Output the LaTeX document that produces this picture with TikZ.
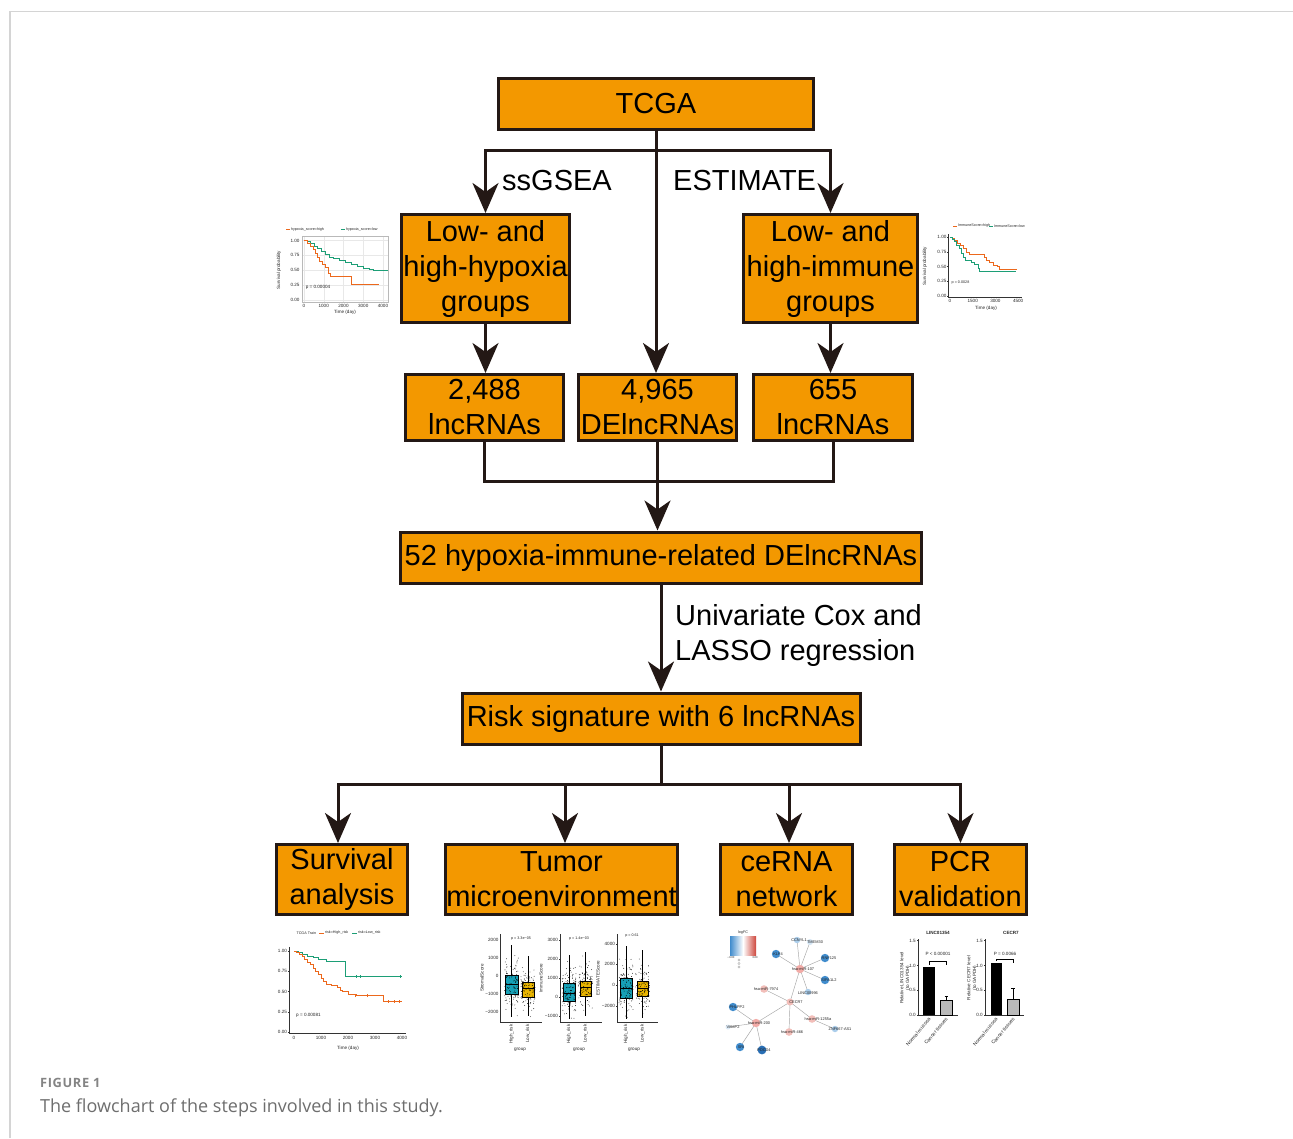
\documentclass[tikz,border=0pt]{standalone}
\usepackage{fontspec}
\setmainfont{Liberation Sans}
\newfontfamily\capfont{Open Sans}
\newfontfamily\capfontb[LetterSpace=5]{Open Sans}
\usetikzlibrary{arrows.meta,calc}
\definecolor{boxorange}{RGB}{243,152,0}
\definecolor{linedark}{RGB}{35,24,21}
\definecolor{framegray}{RGB}{212,212,212}
\definecolor{kmorange}{RGB}{236,104,28}
\definecolor{kmgreen}{RGB}{28,158,118}
\definecolor{bxcyan}{RGB}{22,160,182}
\definecolor{bxyellow}{RGB}{232,180,0}
\definecolor{nwblue}{RGB}{64,140,205}
\definecolor{nwdblue}{RGB}{40,110,180}
\definecolor{nwlblue}{RGB}{170,205,235}
\definecolor{nwpink}{RGB}{242,190,185}
\definecolor{nwred}{RGB}{205,70,60}
\definecolor{capgray}{RGB}{110,110,110}
\newcommand\bxp[8]{%
  \draw[black, line width=0.4pt] ({(#1+#2)/2},#6) -- ({(#1+#2)/2},#3);
  \draw[black, line width=0.4pt] ({(#1+#2)/2},#4) -- ({(#1+#2)/2},#7);
  \filldraw[fill=#8, draw=black, line width=0.4pt] (#1,#3) rectangle (#2,#4);}
\newcommand\jit[4]{%
  \foreach \k in {1,...,#4}{%
    \pgfmathsetmacro\jx{#1+rand*7}%
    \pgfmathsetmacro\jy{#2+(rand+rand+rand)/3*#3}%
    \fill[black] (\jx,\jy) circle[radius=0.42];}}
\begin{document}
\begin{tikzpicture}[x=1pt,y=-1pt,
  flowbox/.style={draw=linedark, fill=boxorange, line width=3pt, inner sep=0pt,
    align=center, font=\fontsize{29}{35}\selectfont, text=black},
  conn/.style={line width=3pt, draw=linedark},
  arr/.style={conn, -{Stealth[length=30pt,width=26pt,inset=9pt]}},
  lbl/.style={font=\fontsize{29}{35}\selectfont, inner sep=0pt, text=black},
  tl/.style={font=\fontsize{4.6}{5}\selectfont, inner sep=0.4pt, text=black!85},
  ts/.style={font=\fontsize{3.7}{4}\selectfont, inner sep=0.3pt, text=black!85},
  kmo/.style={kmorange, line width=0.7pt},
  kmg/.style={kmgreen, line width=0.7pt},
  ax/.style={black!80, line width=0.5pt},
  nwedge/.style={gray!70, line width=0.45pt},
  nwlab/.style={font=\fontsize{3.9}{4}\selectfont, inner sep=0.2pt, text=black!85}]
\useasboundingbox (0,0) rectangle (1293,1138);
\fill[white] (0,0) rectangle (1293,1138);
\draw[framegray, line width=1.6pt] (10,1138) -- (10,11.5) -- (1293,11.5);
\pgfmathsetseed{17}

% ---------------- flow boxes ----------------
\node[flowbox, minimum width=315, minimum height=51] (tcga) at (656,103.5) {TCGA};
\node[flowbox, minimum width=168, minimum height=108] (hyp) at (485.5,268.5) {Low- and\\high-hypoxia\\groups};
\node[flowbox, minimum width=174, minimum height=108] (imm) at (830.5,268.5) {Low- and\\high-immune\\groups};
\node[flowbox, minimum width=158, minimum height=66] (l1) at (484.5,407.5) {2,488\\lncRNAs};
\node[flowbox, minimum width=158, minimum height=66] (l2) at (657.5,407.5) {4,965\\DElncRNAs};
\node[flowbox, minimum width=159, minimum height=66] (l3) at (833,407.5) {655\\lncRNAs};
\node[flowbox, minimum width=521, minimum height=51] (b52) at (661,557.5) {52 hypoxia-immune-related DElncRNAs};
\node[flowbox, minimum width=398, minimum height=51] (risk) at (661,718.5) {Risk signature with 6 lncRNAs};
\node[flowbox, minimum width=131, minimum height=70] (surv) at (342,879.5) {Survival\\analysis};
\node[flowbox, minimum width=232, minimum height=70] (tme) at (561.5,879.5) {Tumor\\microenvironment};
\node[flowbox, minimum width=132, minimum height=70] (cerna) at (786.5,879.5) {ceRNA\\network};
\node[flowbox, minimum width=132, minimum height=70] (pcr) at (960.5,879.5) {PCR\\validation};

% ---------------- connectors ----------------
\coordinate (split1) at (656,150);
\draw[conn] (tcga.south) -- (split1);
\draw[arr] (split1) -| (hyp.north);
\draw[arr] (split1) -| (imm.north);
\draw[arr] (tcga.south) -- (tcga.south |- l2.north);
\node[lbl, anchor=west] (ssg) at (502,181) {ssGSEA};
\node[lbl, anchor=west] (est) at (673,181) {ESTIMATE};
\draw[arr] (hyp.south) -- (hyp.south |- l1.north);
\draw[arr] (imm.south) -- (imm.south |- l3.north);
\coordinate (join) at (657.5,481);
\draw[conn] (l1.south) |- (join) -| (l3.south);
\draw[arr] (l2.south) -- (l2.south |- b52.north);
\draw[arr] (b52.south) -- (b52.south |- risk.north);
\node[lbl, anchor=west, align=left] (cox) at (675,635) {Univariate Cox and\\LASSO regression};
\coordinate (split2) at (661,784);
\draw[conn] (risk.south) -- (split2);
\draw[arr] (split2) -| ([xshift=-4pt]surv.north);
\draw[arr] (split2) -| ([xshift=3.5pt]tme.north);
\draw[arr] (split2) -| ([xshift=2.5pt]cerna.north);
\draw[arr] (split2) -| (pcr.north);

% ---------------- KM plot: hypoxia ----------------
\begin{scope}[shift={(304,300)}, x=0.01975pt, y=59.5pt]
  \foreach \s in {0,0.25,0.5,0.75,1} \draw[gray!18, line width=0.3pt] (-110,\s) -- (4260,\s);
  \foreach \t in {0,1000,2000,3000,4000} \draw[gray!18, line width=0.3pt] (\t,-0.04) -- (\t,1.07);
  \draw[gray!55, line width=0.4pt] (-110,-0.04) rectangle (4260,1.07);
  \foreach \s/\l in {0/0.00,0.25/0.25,0.5/0.50,0.75/0.75,1/1.00}
    \node[tl, anchor=east] at (-200,\s) {\l};
  \foreach \t in {0,1000,2000,3000,4000}
    \node[tl, anchor=north] at (\t,-0.07) {\t};
  \draw[kmg] (0,1) -| (150,0.98) -| (300,0.95) -| (500,0.9) -| (700,0.86) -| (900,0.82) -| (1100,0.77) -| (1300,0.72) -| (1500,0.70) -| (1800,0.67) -| (2100,0.64) -| (2400,0.6) -| (2700,0.56) -| (3000,0.53) -| (3300,0.52) -| (3500,0.5) -- (4250,0.5);
  \draw[kmo] (0,1) -| (150,0.96) -| (300,0.9) -| (450,0.85) -| (550,0.78) -| (700,0.72) -| (800,0.65) -| (950,0.6) -| (1100,0.55) -| (1250,0.45) -| (1350,0.4) -| (2400,0.27) -- (3800,0.27);
  \node[tl, anchor=west] at (60,0.22) {p = 0.00004};
\end{scope}
\node[tl, rotate=90] at (279,270) {Survival probability};
\node[tl] at (345,312) {Time (day)};
\draw[kmorange, line width=0.8pt] (286,229.5) -- (290,229.5);
\node[ts, anchor=west] at (290.5,229.5) {hypoxia\_score=high};
\draw[kmgreen, line width=0.8pt] (341,229.5) -- (345,229.5);
\node[ts, anchor=west] at (345.5,229.5) {hypoxia\_score=low};

% ---------------- KM plot: immune ----------------
\begin{scope}[shift={(950,296)}, x=0.01513pt, y=59pt]
  \draw[ax] (-130,1.05) -- (-130,-0.02) -- (4750,-0.02);
  \foreach \s/\l in {0/0.00,0.25/0.25,0.5/0.50,0.75/0.75,1/1.00}
    {\node[tl, anchor=east] at (-200,\s) {\l}; \draw[ax] (-130,\s) -- (-190,\s);}
  \foreach \t in {0,1500,3000,4500}
    \node[tl, anchor=north] at (\t,-0.05) {\t};
  \draw[kmo] (0,1) -| (150,0.97) -| (300,0.94) -| (500,0.9) -| (700,0.86) -| (900,0.8) -| (1100,0.74) -| (1300,0.71) -| (2300,0.66) -| (2400,0.6) -| (2600,0.57) -| (2850,0.52) -| (3100,0.5) -| (3250,0.45) -- (4450,0.45);
  \draw[kmg] (0,1) -| (150,0.96) -| (300,0.92) -| (450,0.86) -| (600,0.8) -| (750,0.73) -| (900,0.66) -| (1000,0.6) -| (1400,0.57) -| (1600,0.53) -| (1850,0.47) -| (1950,0.42) -- (4350,0.42);
  \node[ts, anchor=west] at (80,0.22) {p = 0.0028};
\end{scope}
\node[tl, rotate=90] at (925,266) {Survival probability};
\node[tl] at (986,308.5) {Time (day)};
\draw[kmorange, line width=0.8pt] (953,226) -- (957,226);
\node[ts, anchor=west] at (957.5,226) {ImmuneScore=high};
\draw[kmgreen, line width=0.8pt] (989,226) -- (993,226);
\node[ts, anchor=west] at (993.5,226) {ImmuneScore=low};

% ---------------- KM plot: survival analysis ----------------
\begin{scope}[shift={(294,1032)}, x=0.027pt, y=81pt]
  \draw[ax] (-190,1.05) -- (-190,-0.015) -- (4150,-0.015);
  \foreach \s/\l in {0/0.00,0.25/0.25,0.5/0.50,0.75/0.75,1/1.00}
    {\node[tl, anchor=east] at (-240,\s) {\l}; \draw[ax] (-190,\s) -- (-230,\s);}
  \foreach \t in {0,1000,2000,3000,4000}
    {\node[tl, anchor=north] at (\t,-0.04) {\t};}
  \draw[kmg] (0,1) -| (150,0.98) -| (300,0.96) -| (500,0.94) -| (700,0.92) -| (900,0.9) -| (1200,0.87) -| (1900,0.69) -- (4000,0.69);
  \draw[kmo] (0,1) -| (100,0.98) -| (200,0.96) -| (300,0.93) -| (400,0.9) -| (500,0.86) -| (600,0.83) -| (700,0.79) -| (800,0.75) -| (900,0.71) -| (1000,0.66) -| (1100,0.62) -| (1200,0.59) -| (1400,0.57) -| (1600,0.55) -| (1700,0.52) -| (1800,0.5) -| (2000,0.47) -| (2200,0.46) -| (2300,0.45) -| (3300,0.38) -- (4000,0.38);
  \foreach \t in {2300,2450,3950} \draw[kmg, line width=0.4pt] (\t,0.67) -- (\t,0.71);
  \foreach \t in {2250,2700,3500,3700,3900} \draw[kmo, line width=0.4pt] (\t,{\t<3300 ? 0.43 : 0.36}) -- (\t,{\t<3300 ? 0.47 : 0.40});
  \node[tl, anchor=west] at (60,0.21) {p = 0.00081};
\end{scope}
\node[tl] at (348,1048) {Time (day)};
\node[ts, anchor=west] at (296,933) {TCGA Train};
\draw[kmorange, line width=0.8pt] (319,933) -- (324,933);
\node[ts, anchor=west] at (324.5,933) {risk=High\_risk};
\draw[kmgreen, line width=0.8pt] (352,933) -- (357,933);
\node[ts, anchor=west] at (357.5,933) {risk=Low\_risk};

% ---------------- boxplots ----------------
% panel 1
\draw[ax] (500.7,934) -- (500.7,1022) -- (542,1022);
\foreach \v/\l in {940/2000,958/1000,976/0,994/−1000,1012/−2000}
  {\node[tl, anchor=east] at (499,\v) {\l}; \draw[ax] (500.7,\v) -- (499.5,\v);}
\node[tl, rotate=90] at (482,978) {StromalScore};
\node[ts] at (521,939) {p = 3.3e−05};
\bxp{505}{518}{975}{994}{984}{945}{1017}{bxcyan}
\bxp{522}{534}{982}{997}{988}{956}{1016}{bxyellow}
\jit{511.5}{984}{38}{110}
\jit{528}{988}{32}{110}
\draw[black, line width=0.9pt] (505,984) -- (518,984);
\draw[black, line width=0.9pt] (522,988) -- (534,988);
\node[tl, rotate=90, anchor=east] at (511.5,1024) {High\_risk};
\node[tl, rotate=90, anchor=east] at (528,1024) {Low\_risk};
\node[tl] at (520,1050) {group};
% panel 2
\draw[ax] (560,934) -- (560,1022) -- (602,1022);
\foreach \v/\l in {940/3000,959/2000,978/1000,997/0,1016/−1000}
  {\node[tl, anchor=east] at (558.5,\v) {\l}; \draw[ax] (560,\v) -- (558.8,\v);}
\node[tl, rotate=90] at (541,978) {ImmuneScore};
\node[ts] at (579,939) {p = 1.4e−03};
\bxp{563}{575}{983}{1001}{993}{955}{1019}{bxcyan}
\bxp{580}{591}{981}{996}{987}{952}{1016}{bxyellow}
\jit{569}{991}{34}{110}
\jit{585.5}{986}{32}{110}
\draw[black, line width=0.9pt] (563,993) -- (575,993);
\draw[black, line width=0.9pt] (580,987) -- (591,987);
\node[tl, rotate=90, anchor=east] at (569,1024) {High\_risk};
\node[tl, rotate=90, anchor=east] at (585.5,1024) {Low\_risk};
\node[tl] at (579,1050) {group};
% panel 3
\draw[ax] (617,934) -- (617,1022) -- (658,1022);
\foreach \v/\l in {944/4000,964/2000,985/0,1006/−2000}
  {\node[tl, anchor=east] at (615.5,\v) {\l}; \draw[ax] (617,\v) -- (615.8,\v);}
\node[tl, rotate=90] at (598,978) {ESTIMATEScore};
\node[ts] at (632,936) {p = 0.61};
\bxp{620}{632}{978}{998}{988}{946}{1019}{bxcyan}
\bxp{637}{648}{981}{996}{988}{950}{1018}{bxyellow}
\jit{626}{987}{37}{110}
\jit{642.5}{987}{33}{110}
\draw[black, line width=0.9pt] (620,988) -- (632,988);
\draw[black, line width=0.9pt] (637,988) -- (648,988);
\node[tl, rotate=90, anchor=east] at (626,1024) {High\_risk};
\node[tl, rotate=90, anchor=east] at (642.5,1024) {Low\_risk};
\node[tl] at (634,1050) {group};

% ---------------- ceRNA network ----------------
\shade[left color=nwblue, right color=nwred, middle color=white] (730,936) rectangle (756,955);
\node[ts] at (743,932.5) {logFC};
\node[ts, font=\fontsize{2.8}{3}\selectfont] at (731,957.5) {−3.00};
\node[ts, font=\fontsize{2.8}{3}\selectfont] at (755,957.5) {3.00};
\foreach \yy in {960,963.5,967} \draw[gray!70, line width=0.3pt] (739,\yy) circle[radius=1.1];
\coordinate (cecr) at (790,1002);
\coordinate (m107) at (800,969);
\coordinate (m7974) at (764,989);
\coordinate (m200) at (756,1023);
\coordinate (m1255) at (812,1019);
\coordinate (m466) at (789,1032);
\coordinate (ccnyl) at (797,940);
\coordinate (tmem) at (810,942);
\coordinate (klf) at (776,954);
\coordinate (rnf) at (825,958);
\coordinate (sipa) at (825,980);
\coordinate (linc) at (808,992);
\coordinate (phl) at (733,1007);
\coordinate (vamp) at (728,1027);
\coordinate (znf) at (835,1029);
\coordinate (sri) at (740,1047);
\coordinate (pdc) at (762,1050);
\foreach \a in {ccnyl,tmem,klf,rnf,sipa,linc,cecr} \draw[nwedge] (m107) -- (\a);
\foreach \a in {phl,vamp,sri,pdc,cecr} \draw[nwedge] (m200) -- (\a);
\draw[nwedge] (m7974) -- (cecr);
\draw[nwedge] (m466) -- (cecr);
\draw[nwedge] (m1255) -- (cecr);
\draw[nwedge] (m1255) -- (znf);
\fill[nwpink] (cecr) circle[radius=3.5];
\foreach \a in {m107,m200} \fill[nwpink!90!red] (\a) circle[radius=4.2];
\foreach \a in {m7974,m1255,m466} \fill[nwpink] (\a) circle[radius=3.8];
\foreach \a in {ccnyl,linc,znf} \fill[nwlblue] (\a) circle[radius=3.2];
\fill[nwlblue!50] (tmem) circle[radius=3];
\fill[nwlblue!40] (vamp) circle[radius=2.5];
\foreach \a in {klf,rnf,sipa,phl,sri} \fill[nwblue] (\a) circle[radius=4.2];
\fill[nwdblue] (pdc) circle[radius=4.4];
\node[nwlab] at (796,1002) {CECR7};
\node[nwlab] at (803,969.5) {hsa-miR-107};
\node[nwlab] at (766,989.5) {hsa-miR-7974};
\node[nwlab] at (759,1023.5) {hsa-miR-200};
\node[nwlab] at (818,1019.5) {hsa-miR-1255a};
\node[nwlab] at (792,1032.5) {hsa-miR-466};
\node[nwlab] at (799,940) {CCNYL1};
\node[nwlab] at (815,942.5) {TMEM30};
\node[nwlab] at (778,954) {KLF4};
\node[nwlab] at (829,958.5) {RNF125};
\node[nwlab] at (829,980.5) {SIPA1L2};
\node[nwlab] at (808,993) {LINC00996};
\node[nwlab] at (737,1007) {PHLPP2};
\node[nwlab] at (733,1027.5) {VAMP2};
\node[nwlab] at (840,1029.5) {ZNF667-AS1};
\node[nwlab] at (741,1047.5) {SRI};
\node[nwlab] at (764,1050.5) {PDCD4};

% ---------------- PCR bar charts ----------------
% panel 1
\node[tl, font=\bfseries\fontsize{4.6}{5}\selectfont] at (938,932.5) {LINC01354};
\draw[ax] (918,939) -- (918,1015) -- (958,1015);
\foreach \v/\l in {940.7/1.5,965.5/1.0,990.2/0.5,1015/0.0}
  {\node[tl, anchor=east] at (916.3,\v) {\l}; \draw[ax] (918,\v) -- (916.8,\v);}
\node[tl, rotate=90, align=center, font=\fontsize{4.6}{5.6}\selectfont] at (905,978) {Relative LINC01354 level\\(to GAPDH)};
\fill[black] (923.3,966.5) rectangle (935,1015);
\draw[black, line width=0.5pt] (946.4,1000) -- (946.4,996) (944.6,996) -- (948.2,996);
\filldraw[fill=gray!55, draw=black, line width=0.5pt] (940,1000) rectangle (952.7,1015);
\draw[black, line width=0.6pt] (929,964.5) -- (929,961.5) -- (946,961.5) -- (946,965);
\node[tl] at (938,954) {P < 0.00001};
\node[tl, rotate=50, anchor=east, font=\fontsize{5}{6}\selectfont] at (930,1018) {Normal mucosa};
\node[tl, rotate=50, anchor=east, font=\fontsize{5}{6}\selectfont] at (947,1018) {Cancer tissues};
% panel 2
\node[tl, font=\bfseries\fontsize{4.6}{5}\selectfont] at (1011,932.5) {CECR7};
\draw[ax] (985,939) -- (985,1015) -- (1024,1015);
\foreach \v/\l in {940.7/1.5,965.5/1.0,990.2/0.5,1015/0.0}
  {\node[tl, anchor=east] at (983.3,\v) {\l}; \draw[ax] (985,\v) -- (983.8,\v);}
\node[tl, rotate=90, align=center, font=\fontsize{4.6}{5.6}\selectfont] at (972,978) {Relative CECR7 level\\(to GAPDH)};
\fill[black] (990.8,963.3) rectangle (1001.7,1015);
\draw[black, line width=0.5pt] (1013.2,999) -- (1013.2,988.3) (1011.4,988.3) -- (1015,988.3);
\filldraw[fill=gray!55, draw=black, line width=0.5pt] (1007.3,999) rectangle (1019,1015);
\draw[black, line width=0.6pt] (996,961) -- (996,959) -- (1013.3,959) -- (1013.3,963);
\node[tl] at (1005,953.5) {P = 0.0066};
\node[tl, rotate=50, anchor=east, font=\fontsize{5}{6}\selectfont] at (997,1018) {Normal mucosa};
\node[tl, rotate=50, anchor=east, font=\fontsize{5}{6}\selectfont] at (1014,1018) {Cancer tissues};

% ---------------- caption ----------------
\node[anchor=base west, inner sep=0pt, text=capgray!85, font=\capfontb\bfseries\fontsize{12.8}{14}\selectfont] (fig) at (40,1087) {FIGURE 1};
\node[anchor=base west, inner sep=0pt, text=capgray, font=\capfont\fontsize{18}{20}\selectfont] (cap) at (40,1112) {The flowchart of the steps involved in this study.};
\end{tikzpicture}
\end{document}
